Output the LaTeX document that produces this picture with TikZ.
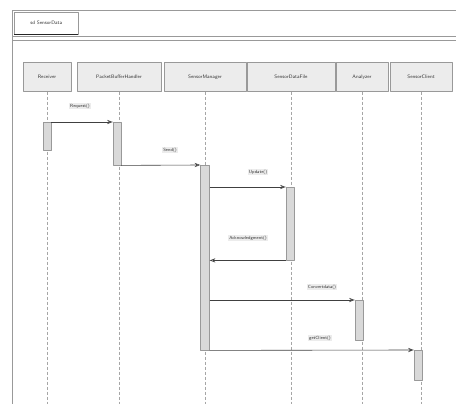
\documentclass[tikz,border=0pt]{standalone}
\usetikzlibrary{arrows.meta}
\begin{document}
\begin{tikzpicture}[x=1pt, y=-1pt, line join=round, >={Stealth[open]}]
\tikzset{every node/.style={font=\sffamily\fontsize{5}{6}\selectfont, text=gray!40!black}}
\tikzset{head/.style={draw=gray!80, fill=gray!15, minimum height=29pt, inner sep=1pt},
  act/.style={draw=gray!80, fill=gray!30, minimum width=8pt, inner sep=0pt, anchor=north},
  msg/.style={->, draw=gray!50!black, semithick},
  life/.style={draw=gray!70, dash pattern=on 3pt off 2pt},
  lbl/.style={fill=gray!15, inner sep=1pt, font=\sffamily\fontsize{4.5}{5}\selectfont}}
\useasboundingbox (0,0) rectangle (456,404);
% frame
\draw[gray!80, thick] (12,404) -- (12,10) -- (456,10);
\draw[gray!80] (12,36) -- (456,36);
\draw[gray!80] (12,40) -- (456,40);
\node[draw=gray!80, anchor=north west, minimum width=64pt, minimum height=22pt, inner sep=1pt] (tab) at (14,12) {sd SensorData};
\draw[gray!30!black, thick] (tab.south west) -- (tab.south east);
% lifeline heads
\node[head, minimum width=48pt] (h1) at (47,77) {Receiver};
\node[head, minimum width=84pt] (h2) at (119,77) {PacketBufferHandler};
\node[head, minimum width=82pt] (h3) at (205,77) {SensorManager};
\node[head, minimum width=88pt] (h4) at (291,77) {SensorDataFile};
\node[head, minimum width=52pt] (h5) at (362,77) {Analyzer};
\node[head, minimum width=62pt] (h6) at (421,77) {SensorClient};
\coordinate (bottom) at (0,404);
\foreach \h in {h1,h2,h3,h4,h5,h6}
  \draw[life] (\h.south) -- (\h.south |- bottom);
% activations
\node[act, minimum height=28pt] (a1) at (47,122) {};
\node[act, minimum height=43pt] (a2) at (117,122) {};
\node[act, minimum width=9pt, minimum height=185pt] (a3) at (205,165) {};
\node[act, minimum height=73pt] (a4) at (290,187) {};
\node[act, minimum height=40pt] (a5) at (359,300) {};
\node[act, minimum height=30pt] (a6) at (418,350) {};
% messages
\draw[msg] (a1.north east) -- (a2.north west);
\draw[msg] (a2.south east) -- (a3.north west);
\draw[msg] (a3.east |- a4.north) -- (a4.north west);
\draw[msg] (a4.south west) -- (a3.east |- a4.south);
\draw[msg] (a3.east |- a5.north) -- (a5.north west);
\draw[msg] (a3.south east) -- (a6.north west);
% labels
\node[lbl] (m1) at (80,106) {Request()};
\node[lbl] (m2) at (170,150) {Send()};
\node[lbl] (m3) at (258,172) {Update()};
\node[lbl] (m4) at (248,238) {Acknowledgment()};
\node[lbl] (m5) at (322,287) {Convertdata()};
\node[lbl] (m6) at (320,338) {getClient()};
\end{tikzpicture}
\end{document}
